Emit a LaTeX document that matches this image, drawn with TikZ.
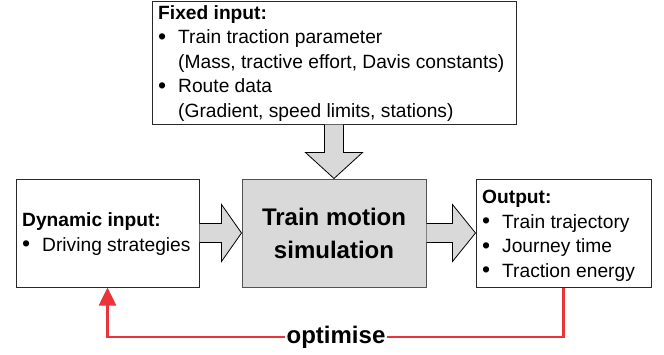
\documentclass[tikz,border=0pt]{standalone}
\usepackage{fontspec}
\setmainfont{Liberation Sans}
\usetikzlibrary{calc,arrows.meta}
\definecolor{boxgray}{RGB}{217,217,217}
\definecolor{optred}{RGB}{232,52,58}
\definecolor{edgecol}{RGB}{40,40,40}
\newcommand{\bul}{\makebox[20pt][l]{\raisebox{-0.8pt}{\fontsize{23}{24.5}\selectfont\textbullet}}}
\begin{document}
\begin{tikzpicture}[x=1pt,y=-1pt,
  whitebox/.style={draw=edgecol, line width=1pt, fill=white, inner sep=0pt},
  simbox/.style={draw=edgecol!80, line width=1pt, fill=boxgray, inner sep=0pt,
    minimum width=184pt, minimum height=108pt, align=center,
    font=\bfseries\fontsize{24}{33}\selectfont},
  txt/.style={inner sep=0pt, anchor=base west, font=\fontsize{19.2}{24.5}\selectfont},
  fatarrow/.style={draw=black, line width=0.8pt, fill=boxgray, line join=miter},
  redline/.style={draw=optred, line width=2.6pt},
  opttxt/.style={inner sep=1.5pt, font=\bfseries\fontsize{24}{28}\selectfont}]
\useasboundingbox (0,0) rectangle (664,354);

% boxes
\node[whitebox, minimum width=364pt, minimum height=123pt] (fixed) at (334,62.5) {};
\node[whitebox, minimum width=183pt, minimum height=108pt] (dyn) at (107.5,233) {};
\node[simbox] (sim) at (334,233) {Train motion\\simulation};
\node[whitebox, minimum width=175pt, minimum height=108pt] (out) at (563.5,233) {};

% texts
\node[txt] (fixedtxt) at (158,19) {\begin{tabular}[t]{@{}l@{}l@{}}
\multicolumn{2}{@{}l@{}}{\textbf{Fixed input:}}\\
\bul & Train traction parameter\\
 & (Mass, tractive effort, Davis constants)\\
\bul & Route data\\
 & (Gradient, speed limits, stations)
\end{tabular}};
\node[txt] (dyntxt) at (22,226.5) {\begin{tabular}[t]{@{}l@{}l@{}}
\multicolumn{2}{@{}l@{}}{\textbf{Dynamic input:}}\\
\bul & Driving strategies
\end{tabular}};
\node[txt] (outtxt) at (482,203.5) {\begin{tabular}[t]{@{}l@{}l@{}}
\multicolumn{2}{@{}l@{}}{\textbf{Output:}}\\
\bul & Train trajectory\\
\bul & Journey time\\
\bul & Traction energy
\end{tabular}};

% fat arrows
\draw[fatarrow] ($(fixed.south)+(-9.5,0)$) -- ($(sim.north)+(-9.5,-26)$)
  -- ($(sim.north)+(-28.5,-26)$) -- (sim.north) -- ($(sim.north)+(28.5,-26)$)
  -- ($(sim.north)+(9.5,-26)$) -- ($(fixed.south)+(9.5,0)$);
\draw[fatarrow] ($(dyn.east)+(0,-9.5)$) -- ($(sim.west)+(-20,-9.5)$)
  -- ($(sim.west)+(-20,-28.5)$) -- (sim.west) -- ($(sim.west)+(-20,28.5)$)
  -- ($(sim.west)+(-20,9.5)$) -- ($(dyn.east)+(0,9.5)$);
\draw[fatarrow] ($(sim.east)+(0,-9.5)$) -- ($(out.west)+(-23,-9.5)$)
  -- ($(out.west)+(-23,-28.5)$) -- (out.west) -- ($(out.west)+(-23,28.5)$)
  -- ($(out.west)+(-23,9.5)$) -- ($(sim.east)+(0,9.5)$);

% optimise loop
\node[opttxt] (opt) at (336,337) {optimise};
\draw[redline] (out.south) |- (opt.east);
\draw[redline, -{Triangle[width=17pt,length=18pt]}] (opt.west) -| (dyn.south);
\end{tikzpicture}
\end{document}
